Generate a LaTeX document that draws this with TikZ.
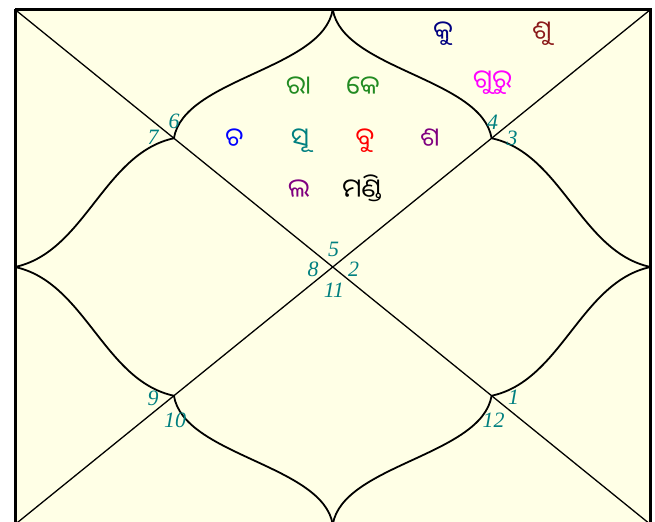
\documentclass[tikz,border=0pt]{standalone}
\usepackage{fontspec}
\usetikzlibrary{calc}
\setmainfont{Liberation Serif}
\newfontfamily\odia[Script=Oriya]{Noto Sans Oriya UI}
\definecolor{chartbg}{RGB}{255,255,230}
\definecolor{numcol}{RGB}{0,128,128}
\definecolor{cgreen}{RGB}{34,139,34}
\definecolor{cblue}{RGB}{0,0,255}
\definecolor{cteal}{RGB}{0,128,128}
\definecolor{cred}{RGB}{255,0,0}
\definecolor{cpurple}{RGB}{128,0,128}
\definecolor{cnavy}{RGB}{0,0,128}
\definecolor{cmaroon}{RGB}{139,26,26}
\definecolor{cmagenta}{RGB}{255,0,255}
\tikzset{
  num/.style={text=numcol,font=\fontsize{22}{22}\selectfont\itshape,inner sep=0pt},
  planet/.style={font=\odia\fontsize{26}{26}\selectfont,inner sep=0pt,anchor=base},
  diag/.style={line width=1.3bp},
  petal/.style={line width=1.8bp,line join=round},
}
\begin{document}
\begin{tikzpicture}[x=1bp,y=-1bp]
\useasboundingbox (0,0) rectangle (655,522);
\clip (0,0) rectangle (655,522);
\fill[white] (0,0) rectangle (655,522);
\coordinate (TL) at (15,9.5);
\coordinate (TR) at (650.5,9.5);
\coordinate (BL) at (15,524.5);
\coordinate (BR) at (650.5,524.5);
\coordinate (T) at (332.75,9.5);
\coordinate (L) at (15,267);
\coordinate (R) at (650.5,267);
\coordinate (B) at (332.75,524.5);
\coordinate (Q1) at (173.9,138.25);
\coordinate (Q2) at (491.6,138.25);
\coordinate (Q3) at (173.9,395.75);
\coordinate (Q4) at (491.6,395.75);
\fill[chartbg] (TL) rectangle (BR);
\draw[diag] (TL) -- (BR);
\draw[diag] (TR) -- (BL);
\draw[petal] (T) .. controls ($(T)+(-10,60)$) and ($(Q1)+(10,-60)$) .. (Q1)
  .. controls ($(Q1)+(-70,15)$) and ($(L)+(70,-15)$) .. (L)
  .. controls ($(L)+(70,15)$) and ($(Q3)+(-70,-15)$) .. (Q3)
  .. controls ($(Q3)+(10,60)$) and ($(B)+(-10,-60)$) .. (B);
\draw[petal] (T) .. controls ($(T)+(10,60)$) and ($(Q2)+(-10,-60)$) .. (Q2)
  .. controls ($(Q2)+(70,15)$) and ($(R)+(-70,-15)$) .. (R)
  .. controls ($(R)+(-70,15)$) and ($(Q4)+(70,-15)$) .. (Q4)
  .. controls ($(Q4)+(-10,60)$) and ($(B)+(10,-60)$) .. (B);
\draw[line width=3bp] (TL) -- (BL);
\draw[line width=3bp] (TL) -- (TR) -- (BR);
% house numbers
\node[num] (n6) at (174,121.5) {6};
\node[num] (n7) at (153,137.5) {7};
\node[num] (n4) at (492.5,122) {4};
\node[num] (n3) at (512,138) {3};
\node[num] (n5) at (333.5,249.5) {5};
\node[num] (n8) at (313,269) {8};
\node[num] (n2) at (353.5,269) {2};
\node[num] (n11) at (334,290) {11};
\node[num] (n9) at (153,398) {9};
\node[num] (n10) at (175,420.5) {10};
\node[num] (n1) at (513.5,397.5) {1};
\node[num] (n12) at (493.5,420) {12};
% planets
\node[planet,text=cgreen] (ra) at (298.5,96.5) {ରା};
\node[planet,text=cgreen] (ke) at (363,96.5) {କେ};
\node[planet,text=cblue] (ch) at (234.5,148.5) {ଚ};
\node[planet,text=cteal] (su) at (300,148.5) {ସୂ};
\node[planet,text=cred] (bu) at (365,148.5) {ବୁ};
\node[planet,text=cpurple] (sh) at (430,148.5) {ଶ};
\node[planet,text=cpurple] (la) at (299,199.5) {ଲ};
\node[planet,text=black] (ma) at (362,199.5) {ମଣ୍ଡି};
\node[planet,text=cnavy] (ku) at (443,42) {କୁ};
\node[planet,text=cmaroon] (sk) at (542,42) {ଶୁ};
\node[planet,text=cmagenta] (gu) at (492.5,90.5) {ଗୁରୁ};
\end{tikzpicture}
\end{document}
